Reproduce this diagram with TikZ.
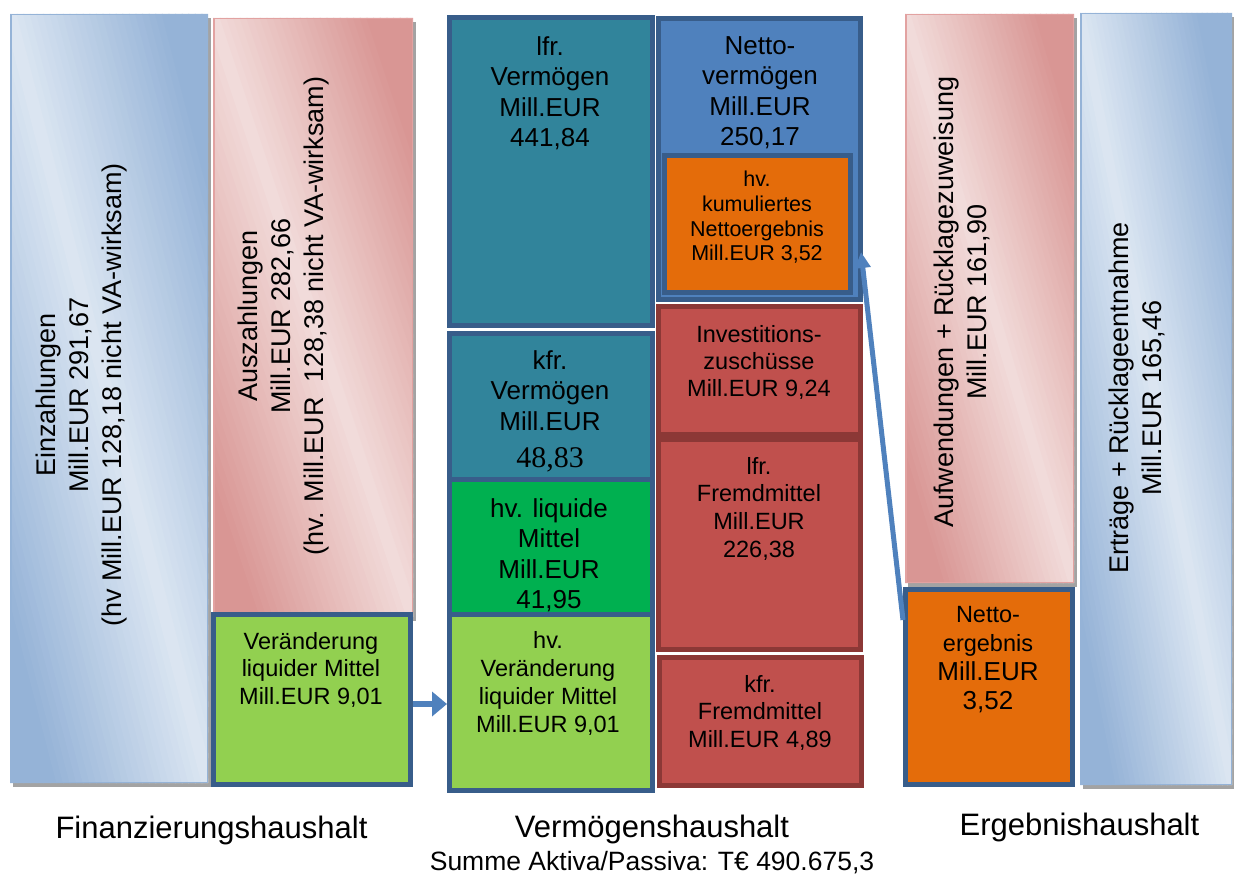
\documentclass[tikz,border=0pt]{standalone}
\usepackage{fontspec}
\setmainfont{Liberation Sans}
\newfontfamily\serifnum{Liberation Serif}
\usetikzlibrary{arrows.meta}
\definecolor{bdark}{HTML}{95B3D7}
\definecolor{blight}{HTML}{DCE6F2}
\definecolor{pdark}{HTML}{D99694}
\definecolor{plight}{HTML}{F2DCDB}
\definecolor{pborder}{HTML}{E2A2A1}
\definecolor{frameblue}{HTML}{385D8A}
\definecolor{tealbox}{HTML}{31849B}
\definecolor{nvblue}{HTML}{4F81BD}
\definecolor{orangebox}{HTML}{E46C0A}
\definecolor{greenl}{HTML}{92D050}
\definecolor{greend}{HTML}{00B050}
\definecolor{redbox}{HTML}{C0504D}
\definecolor{redframe}{HTML}{8C3836}
\definecolor{arrowblue}{HTML}{4F81BD}
\definecolor{shadowgray}{HTML}{A3A3A3}
% diagonal gradient: light along the diagonal top-left -> bottom-right, dark in the other corners
\newcommand\gradfill[6]{%
  \fill[shadowgray] ({#1+3},{#2+4}) rectangle ({#3+3},{#4+4});
  \begin{scope}
    \clip (#1,#2) rectangle (#3,#4);
    \foreach \k in {0,...,59}{%
      \pgfmathsetmacro\gsa{-1+\k/30}%
      \pgfmathsetmacro\gsb{\gsa+1/30+0.006}%
      \pgfmathsetmacro\gpc{min(100,abs(\gsa+1/60)/0.78*100)}%
      \fill[#5!\gpc!#6] ({#1+\gsa*(#3-#1)},#2) -- ({#1+\gsb*(#3-#1)},#2)
        -- ({#3+\gsb*(#3-#1)},#4) -- ({#3+\gsa*(#3-#1)},#4) -- cycle;
    }
  \end{scope}}
\tikzset{
  gradborder/.style={draw, line width=1.5pt, inner sep=0pt},
  solidbox/.style={draw=frameblue, line width=5pt, inner sep=0pt},
  redsolid/.style={draw=redframe, line width=5pt, inner sep=0pt, fill=redbox},
  txt/.style={align=center, inner sep=0pt, anchor=north, text=black},
  big/.style={font=\fontsize{26}{30.5}\selectfont},
  small/.style={font=\fontsize{23.5}{27.5}\selectfont},
  rot/.style={align=center, inner sep=0pt, rotate=90, text=black, font=\fontsize{27}{33}\selectfont},
  lab/.style={anchor=base, inner sep=0pt, text=black, font=\fontsize{31}{31}\selectfont},
  arr/.style={draw=arrowblue, line width=6.5pt, -{Triangle[length=15pt,width=24pt]}},
  arrb/.style={draw=arrowblue, line width=5pt, -{Triangle[length=16pt,width=15pt]}}
}
\begin{document}
\begin{tikzpicture}[x=1pt,y=-1pt]
\useasboundingbox[fill=white] (0,0) rectangle (1234,874);

% gradient boxes
\gradfill{10}{14}{208}{783}{bdark}{blight}
\gradfill{213}{18}{413}{617}{pdark}{plight}
\gradfill{905}{14}{1074}{583}{pdark}{plight}
\gradfill{1080}{13}{1232}{785}{bdark}{blight}
\node[gradborder, draw=bdark, minimum width=196.5pt, minimum height=767.5pt] (ein) at (109,398.5) {};
\node[gradborder, draw=pborder, minimum width=198.5pt, minimum height=597.5pt] (aus) at (313,317.5) {};
\node[gradborder, draw=pborder, minimum width=167.5pt, minimum height=567.5pt] (auf) at (989.5,298.5) {};
\node[gradborder, draw=bdark, minimum width=150.5pt, minimum height=770.5pt] (ert) at (1156,399) {};

\node[rot] (eint) at (82,395) {Einzahlungen\\Mill.EUR 291,67\\(hv Mill.EUR 128,18 nicht VA-wirksam)};
\node[rot] (aust) at (284,316) {Auszahlungen\\Mill.EUR 282,66\\(hv. Mill.EUR\ \ 128,38 nicht VA-wirksam)};
\node[rot] (auft) at (961.5,302) {Aufwendungen + Rücklagezuweisung\\Mill.EUR 161,90};
\node[rot] (ertt) at (1137,398) {Erträge + Rücklageentnahme\\Mill.EUR 165,46};

% solid boxes
\node[solidbox, fill=greenl, minimum width=197pt, minimum height=170pt] (ver) at (312,699.5) {};
\node[solidbox, fill=tealbox, minimum width=203pt, minimum height=308pt] (lfv) at (551,171.5) {};
\node[solidbox, fill=greend, minimum width=203pt, minimum height=135pt] (hlm) at (551,547) {};
\node[solidbox, fill=tealbox, minimum width=203pt, minimum height=146pt] (kfv) at (551,406.5) {};
\node[solidbox, fill=greenl, minimum width=203pt, minimum height=176pt] (hvv) at (551,702.5) {};
\node[solidbox, fill=nvblue, minimum width=202pt, minimum height=281pt] (nv) at (759.5,159) {};
\node[solidbox, fill=orangebox, minimum width=186pt, minimum height=137pt] (hkn) at (757.5,224) {};
\node[redsolid, minimum width=202pt, minimum height=210pt] (lfm) at (759.5,544.5) {};
\node[redsolid, minimum width=202pt, minimum height=128pt] (inv) at (759.5,370.5) {};
\node[redsolid, minimum width=202pt, minimum height=128pt] (kfm) at (760.5,721.5) {};
\node[solidbox, fill=orangebox, minimum width=167pt, minimum height=195pt] (neg) at (989,687) {};

% texts in boxes
\node[txt, small] (vert) at (311,632) {Veränderung\\liquider Mittel\\Mill.EUR 9,01};
\node[txt, big] (lfvt) at (550,36) {lfr.\\Vermögen\\Mill.EUR\\441,84};
\node[txt, big] (kfvt) at (550,350) {kfr.\\Vermögen\\Mill.EUR\\[6.5pt]{\serifnum\fontsize{30}{30}\selectfont 48,83}};
\node[txt, big] (hlmt) at (549,498) {hv. liquide\\Mittel\\Mill.EUR\\41,95};
\node[txt, small, font=\fontsize{23.5}{28}\selectfont] (hvvt) at (548,631) {hv.\\Veränderung\\liquider Mittel\\Mill.EUR 9,01};
\node[txt, big] (nvt) at (760,36) {Netto-\\vermögen\\Mill.EUR\\250,17};
\node[txt, font=\fontsize{21.5}{24.7}\selectfont] (hknt) at (757,171) {hv.\\kumuliertes\\Nettoergebnis\\Mill.EUR 3,52};
\node[txt, small, font=\fontsize{23.5}{27}\selectfont] (invt) at (759,325) {Investitions-\\zuschüsse\\Mill.EUR 9,24};
\node[txt, small, font=\fontsize{23.5}{27.7}\selectfont] (lfmt) at (759,457) {lfr.\\Fremdmittel\\Mill.EUR\\226,38};
\node[txt, small] (kfmt) at (760,675) {kfr.\\Fremdmittel\\Mill.EUR 4,89};
\node[txt, font=\fontsize{23.5}{29}\selectfont] (negt) at (988,606) {Netto-\\ergebnis\\{\fontsize{26}{29}\selectfont Mill.EUR}\\{\fontsize{26}{29}\selectfont 3,52}};

% arrows
\draw[arr] ([yshift=-4.5pt]ver.east) -- ([yshift=-1.5pt]hvv.west);
\draw[arrb] ([yshift=-33pt]neg.north west) -- ([xshift=-2pt,yshift=-93pt]nv.east);

% labels
\node[lab] (fh) at (211.5,838) {Finanzierungshaushalt};
\node[lab] (vh) at (652,837) {Vermögenshaushalt};
\node[lab, font=\fontsize{26.5}{26.5}\selectfont] (sum) at (652,870) {Summe Aktiva/Passiva: T€ 490.675,3};
\node[lab] (eh) at (1079.5,835) {Ergebnishaushalt};
\end{tikzpicture}
\end{document}
